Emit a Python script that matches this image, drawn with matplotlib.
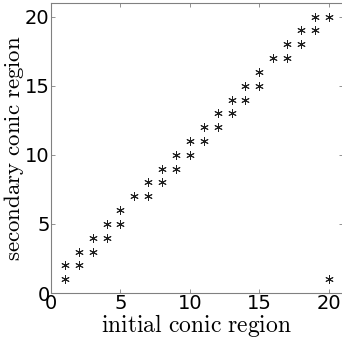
import matplotlib
matplotlib.use("Agg")
from matplotlib import pyplot as plt

plt.rcParams['mathtext.fontset'] = 'cm'

# initial region -> secondary region(s)
initial = [1, 1, 2, 2, 3, 3, 4, 4, 5, 5, 6, 7, 7, 8, 8, 9, 9, 10, 10,
           11, 11, 12, 12, 13, 13, 14, 14, 15, 15, 16, 17, 17, 18, 18,
           19, 19, 20, 20]
secondary = [1, 2, 2, 3, 3, 4, 4, 5, 5, 6, 7, 7, 8, 8, 9, 9, 10, 10, 11,
             11, 12, 12, 13, 13, 14, 14, 15, 15, 16, 17, 17, 18, 18, 19,
             19, 20, 20, 1]
xticks = [0, 5, 10, 15, 20]
yticks = [0, 5, 10, 15, 20]

fig = plt.figure(figsize=(3.42, 3.42), dpi=100)
ax = fig.add_axes([0.149, 0.143, 0.853, 0.849])
ax.plot(initial, secondary, linestyle='none', marker=(6, 2, 0),
        markersize=6, markeredgewidth=0.7, color='#202020')

ax.set_xlim(0, 21)
ax.set_ylim(0, 21)
ax.set_xticks(xticks)
ax.set_yticks(yticks)
ax.tick_params(direction='in', top=True, right=True, labelsize=14,
               length=3, width=0.6, colors='#808080', labelcolor='black', pad=1)
for s in ax.spines.values():
    s.set_color('#808080')
    s.set_linewidth(0.8)

ax.set_xlabel(r'$\mathrm{initial\ conic\ region}$', fontsize=17, labelpad=-1)
ax.set_ylabel(r'$\mathrm{secondary\ conic\ region}$', fontsize=16.5,
              va='center')
ax.yaxis.set_label_coords(-0.128, 0.5)

fig.savefig('out.png', dpi=100)
